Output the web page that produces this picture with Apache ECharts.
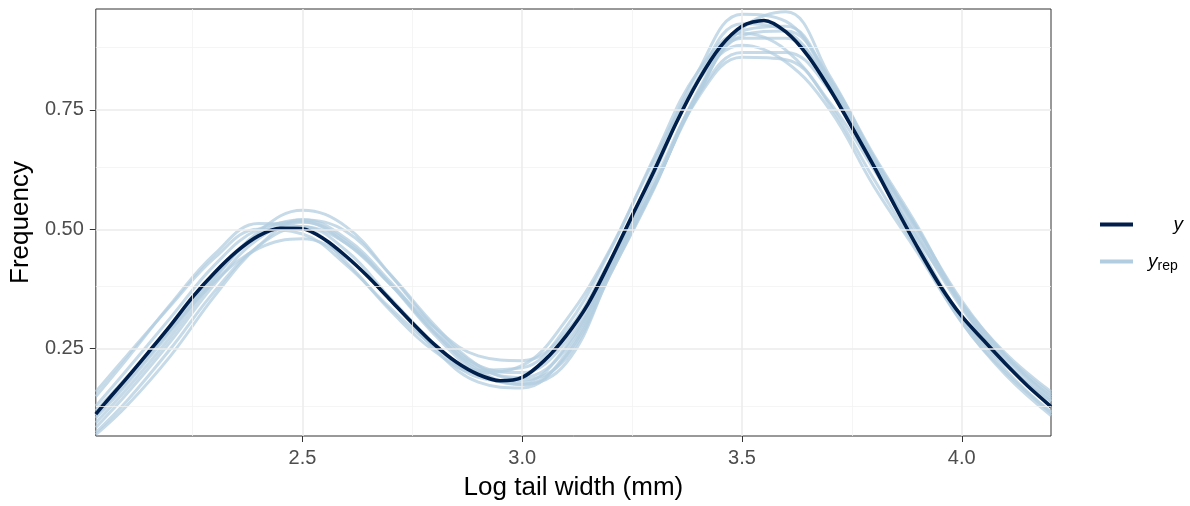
<!DOCTYPE html>
<html>
<head>
<meta charset="utf-8">
<script src="https://cdn.jsdelivr.net/npm/echarts@6/dist/echarts.min.js"></script>
<style>html,body{margin:0;padding:0;background:#fff;}#c{width:1190px;height:506px;}</style>
</head>
<body>
<div id="c"></div>
<script>
// ---- data ----
const xFine = [2.03,2.05,2.10,2.15,2.20,2.25,2.30,2.35,2.40,2.45,2.50,2.55,2.60,2.65,2.70,2.75,2.80,2.85,2.90,2.95,3.00,3.05,3.10,3.15,3.20,3.25,3.30,3.35,3.40,3.45,3.50,3.55,3.60,3.65,3.70,3.75,3.80,3.85,3.90,3.95,4.00,4.05,4.10,4.15,4.203];
const yObs = [0.113,0.135,0.188,0.243,0.299,0.358,0.409,0.453,0.486,0.502,0.501,0.479,0.443,0.400,0.352,0.304,0.259,0.222,0.196,0.183,0.190,0.225,0.277,0.344,0.433,0.528,0.622,0.722,0.810,0.881,0.925,0.937,0.913,0.863,0.793,0.714,0.632,0.545,0.461,0.383,0.318,0.267,0.218,0.172,0.129];

const xCoarse = [2.03,2.1,2.2,2.3,2.4,2.5,2.6,2.7,2.8,2.9,3.0,3.1,3.2,3.3,3.4,3.5,3.6,3.7,3.8,3.9,4.0,4.1,4.203];
const yRep1  = [0.150,0.228,0.343,0.448,0.512,0.505,0.430,0.330,0.245,0.200,0.215,0.310,0.458,0.650,0.830,0.910,0.875,0.760,0.605,0.455,0.310,0.215,0.140];
const yRep2  = [0.075,0.140,0.250,0.370,0.465,0.505,0.470,0.385,0.285,0.205,0.175,0.235,0.410,0.590,0.780,0.915,0.925,0.810,0.650,0.495,0.340,0.232,0.150];
const yRep3  = [0.095,0.165,0.275,0.395,0.495,0.540,0.505,0.405,0.295,0.215,0.200,0.265,0.420,0.590,0.775,0.860,0.855,0.765,0.625,0.480,0.345,0.240,0.160];
const yRep4  = [0.120,0.190,0.290,0.390,0.460,0.480,0.440,0.355,0.260,0.190,0.180,0.255,0.420,0.630,0.830,0.950,0.935,0.805,0.640,0.460,0.305,0.200,0.118];
const yRep5  = [0.105,0.175,0.285,0.400,0.485,0.505,0.455,0.355,0.250,0.180,0.168,0.240,0.415,0.615,0.815,0.930,0.915,0.800,0.640,0.470,0.315,0.205,0.115];
const yRep6  = [0.130,0.205,0.315,0.425,0.500,0.515,0.470,0.385,0.295,0.235,0.225,0.285,0.435,0.600,0.780,0.870,0.870,0.790,0.645,0.500,0.350,0.235,0.145];
const yRep7  = [0.085,0.155,0.265,0.385,0.480,0.515,0.475,0.385,0.280,0.200,0.175,0.220,0.405,0.585,0.790,0.920,0.955,0.820,0.655,0.505,0.340,0.220,0.130];
const yRep8  = [0.160,0.235,0.340,0.440,0.500,0.490,0.425,0.335,0.255,0.205,0.210,0.295,0.455,0.645,0.810,0.885,0.850,0.750,0.590,0.450,0.305,0.195,0.110];
const yRep9  = [0.110,0.180,0.290,0.405,0.490,0.520,0.480,0.390,0.285,0.210,0.190,0.250,0.420,0.590,0.785,0.900,0.900,0.795,0.640,0.485,0.335,0.225,0.140];
const yRep10 = [0.070,0.130,0.235,0.360,0.465,0.520,0.495,0.405,0.300,0.215,0.185,0.230,0.405,0.588,0.785,0.905,0.915,0.815,0.650,0.500,0.345,0.235,0.155];

const xMajor = [2.5,3.0,3.5,4.0];
const xMinor = [2.25,2.75,3.25,3.75];
const yMajor = [0.25,0.50,0.75];
const yMinor = [0.125,0.375,0.625,0.875];
const xTicks = [2.5,3.0,3.5,4.0];
const yTicks = [0.25,0.50,0.75];

// ---- chart ----
const reps = [yRep1,yRep2,yRep3,yRep4,yRep5,yRep6,yRep7,yRep8,yRep9,yRep10];
const DARK = '#011f4b', LIGHT = '#b3cde0';
const pair = (xs, ys) => xs.map((x,i)=>[x, ys[i]]);

const gridLines = [];
xMinor.forEach(v=>gridLines.push({xAxis:v, lineStyle:{color:'#f2f2f2', width:0.8, type:'solid'}}));
yMinor.forEach(v=>gridLines.push({yAxis:v, lineStyle:{color:'#f2f2f2', width:0.8, type:'solid'}}));
xMajor.forEach(v=>gridLines.push({xAxis:v, lineStyle:{color:'#ebebeb', width:1.5, type:'solid'}}));
yMajor.forEach(v=>gridLines.push({yAxis:v, lineStyle:{color:'#ebebeb', width:1.5, type:'solid'}}));

const series = [{
  type:'line', name:'grid', data:[], z:1, silent:true,
  markLine:{silent:true, symbol:['none','none'], label:{show:false}, animation:false,
    emphasis:{disabled:true}, data:gridLines}
}];
reps.forEach(r=>series.push({
  type:'line', name:'y_rep', data:pair(xCoarse, r), smooth:0.4, symbol:'none', z:2,
  lineStyle:{color:LIGHT, width:3, opacity:0.75}, itemStyle:{color:LIGHT}, silent:true
}));
series.push({
  type:'line', name:'y', data:pair(xFine, yObs), smooth:0.3, symbol:'none', z:3,
  lineStyle:{color:DARK, width:3.6}, itemStyle:{color:DARK}, silent:true
});

const chart = echarts.init(document.getElementById('c'), null, {renderer:'canvas'});
chart.setOption({
  animation:false,
  backgroundColor:'#fff',
  textStyle:{fontFamily:'Liberation Sans, Arial, sans-serif'},
  grid:{left:95, right:139, top:9, bottom:68, show:true, borderColor:'#333', borderWidth:1, backgroundColor:'transparent'},
  xAxis:{
    type:'value', min:2.03, max:4.203,
    name:'Log tail width (mm)', nameLocation:'middle', nameGap:39,
    nameTextStyle:{color:'#000', fontSize:26},
    axisLine:{show:false},
    axisTick:{show:true, length:6, lineStyle:{color:'#333'}, customValues:xTicks},
    axisLabel:{color:'#4d4d4d', fontSize:20, margin:12, customValues:xTicks, formatter:v=>v.toFixed(1)},
    splitLine:{show:false}
  },
  yAxis:{
    type:'value', min:0.0673, max:0.961,
    name:'Frequency', nameLocation:'middle', nameGap:60, nameRotate:90,
    nameTextStyle:{color:'#000', fontSize:26},
    axisLine:{show:false},
    axisTick:{show:true, length:6, lineStyle:{color:'#333'}, customValues:yTicks},
    axisLabel:{color:'#4d4d4d', fontSize:20, margin:12, customValues:yTicks, formatter:v=>v.toFixed(2)},
    splitLine:{show:false}
  },
  legend:{
    orient:'vertical', left:1095, top:210, itemWidth:33, itemHeight:4, itemGap:16,
    selectedMode:false,
    data:[{name:'y', icon:'rect', itemStyle:{color:DARK, opacity:1}},
          {name:'y_rep', icon:'rect', itemStyle:{color:LIGHT, opacity:1}}],
    formatter:n => n==='y' ? '{ya|y}' : '{yb|y}{s|rep}',
    textStyle:{color:'#000', rich:{
      ya:{fontStyle:'italic', fontSize:19, width:45, align:'right', lineHeight:24},
      yb:{fontStyle:'italic', fontSize:19, padding:[0,0,0,10], lineHeight:24},
      s:{fontSize:14, padding:[9,0,0,0], lineHeight:14}
    }}
  },
  series:series
});
</script>
</body>
</html>
